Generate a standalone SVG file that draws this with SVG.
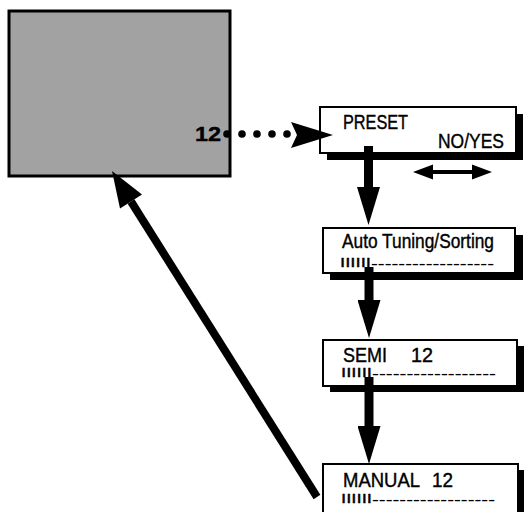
<svg xmlns="http://www.w3.org/2000/svg" width="524" height="512" viewBox="0 0 524 512">
<defs>
<style>
.box{fill:#fff;stroke:#000;stroke-width:2}
.shadow{fill:#000}
.t{font-family:"Liberation Sans",Arial,sans-serif;font-size:20px;fill:#000;stroke:#000;stroke-width:0.4}
.bars{font-family:"Liberation Sans",Arial,sans-serif;font-size:12px;fill:#000;stroke:#000;stroke-width:0.3}
.dash{font-family:"Liberation Sans",Arial,sans-serif;font-size:11px;font-weight:bold;fill:#000}
.shaft{stroke:#000;stroke-width:9;fill:none}
</style>
<marker id="head" markerUnits="userSpaceOnUse" markerWidth="38" markerHeight="23" refX="0" refY="11.5" orient="auto" viewBox="0 0 38 23">
<path d="M0,0 L38,11.5 L0,23 z" fill="#000"/>
</marker>
</defs>
<rect width="524" height="512" fill="#fff"/>

<g id="screen">
<rect x="9" y="11" width="221" height="165" fill="#a2a2a2" stroke="#000" stroke-width="3"/>
<text class="t" x="195" y="141" font-size="20" font-weight="bold" stroke-width="0" textLength="26" lengthAdjust="spacingAndGlyphs">12</text>
</g>

<g id="preset">
<rect class="shadow" x="327" y="114" width="196" height="46"/>
<rect class="box" x="320" y="107" width="196" height="46"/>
<text class="t" x="343" y="129" textLength="65" lengthAdjust="spacingAndGlyphs">PRESET</text>
<text class="t" x="438" y="148" textLength="66" lengthAdjust="spacingAndGlyphs">NO/YES</text>
</g>

<g id="auto">
<rect class="shadow" x="330" y="235" width="193" height="45"/>
<rect class="box" x="323" y="228" width="192" height="45"/>
<text class="t" x="342" y="248" textLength="152" lengthAdjust="spacingAndGlyphs">Auto Tuning/Sorting</text>
<text class="bars" x="340" y="267" textLength="31" lengthAdjust="spacingAndGlyphs">IIIIII</text>
<text class="dash" x="371" y="267" textLength="123" lengthAdjust="spacingAndGlyphs">------------------</text>
</g>

<g id="semi">
<rect class="shadow" x="330" y="346" width="194" height="46"/>
<rect class="box" x="323" y="340" width="194" height="46"/>
<text class="t" x="343" y="362" textLength="44" lengthAdjust="spacingAndGlyphs">SEMI</text>
<text class="t" x="411" y="362" textLength="22" lengthAdjust="spacingAndGlyphs">12</text>
<text class="bars" x="341" y="377" textLength="31" lengthAdjust="spacingAndGlyphs">IIIIII</text>
<text class="dash" x="372" y="377" textLength="124" lengthAdjust="spacingAndGlyphs">------------------</text>
</g>

<g id="manual">
<rect class="shadow" x="330" y="470" width="194" height="50"/>
<rect class="box" x="323" y="464" width="195" height="50"/>
<text class="t" x="343" y="487" textLength="77" lengthAdjust="spacingAndGlyphs">MANUAL</text>
<text class="t" x="432" y="487" textLength="21" lengthAdjust="spacingAndGlyphs">12</text>
<text class="bars" x="341" y="503" textLength="31" lengthAdjust="spacingAndGlyphs">IIIIII</text>
<text class="dash" x="372" y="503" textLength="123" lengthAdjust="spacingAndGlyphs">------------------</text>
</g>

<g id="connectors">
<g fill="#000">
<circle cx="227" cy="134" r="3.8"/>
<circle cx="242" cy="134" r="3.8"/>
<circle cx="257" cy="134" r="3.8"/>
<circle cx="272" cy="134" r="3.8"/>
<circle cx="287" cy="134" r="3.8"/>
<path d="M291,122 L333,135 L291,148 L297,135 z"/>
</g>
<line class="shaft" x1="368.5" y1="146" x2="368.5" y2="187" marker-end="url(#head)"/>
<line class="shaft" x1="369" y1="267" x2="369" y2="300" marker-end="url(#head)"/>
<line class="shaft" x1="369" y1="377" x2="369" y2="426" marker-end="url(#head)"/>
<path d="M413,172 L433,164.5 L433,170 L472,170 L472,164.5 L492,172 L472,179.5 L472,174 L433,174 L433,179.5 z" fill="#000"/>
<line x1="317" y1="497" x2="131" y2="201.5" stroke="#000" stroke-width="8"/>
<path d="M112,171 L142,194.6 L120,208.4 z" fill="#000"/>
</g>
</svg>
